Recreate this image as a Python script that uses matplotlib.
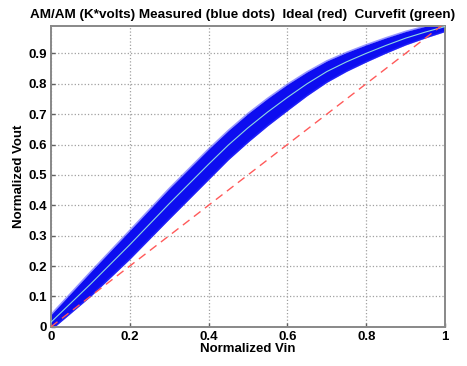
import numpy as np
import matplotlib
matplotlib.use("Agg")
import matplotlib.pyplot as plt

# centre of the measured cloud and its half thickness
vin = [0.0, 0.1, 0.2, 0.3, 0.35, 0.4, 0.45, 0.5, 0.55, 0.6, 0.65, 0.7, 0.75, 0.8, 0.85, 0.9, 0.95, 1.0]
vout_fit = [0.015, 0.14, 0.27, 0.405, 0.47, 0.535, 0.598, 0.655, 0.707, 0.755, 0.80, 0.84, 0.872,
            0.90, 0.926, 0.95, 0.97, 0.988]
spread = [0.025, 0.04, 0.047, 0.05, 0.05, 0.05, 0.048, 0.047, 0.045, 0.043, 0.039, 0.035, 0.031,
          0.028, 0.025, 0.022, 0.019, 0.016]
ideal = [0.0, 1.0]

xticks = [0, 0.2, 0.4, 0.6, 0.8, 1]
xlabels = ["0", "0.2", "0.4", "0.6", "0.8", "1"]
yticks = [0, 0.1, 0.2, 0.3, 0.4, 0.5, 0.6, 0.7, 0.8, 0.9]
ylabels = ["0", "0.1", "0.2", "0.3", "0.4", "0.5", "0.6", "0.7", "0.8", "0.9"]

plt.rcParams['font.family'] = ['Liberation Sans', 'DejaVu Sans']
plt.rcParams['font.weight'] = 'bold'

fig = plt.figure(figsize=(4.67, 3.66), dpi=100)
ax = fig.add_axes([0.109, 0.107, 0.844, 0.822])

x = np.array(vin)
c = np.array(vout_fit)
s = np.array(spread)
ax.fill_between(x, c - s, c + s, color='#0d0df0', lw=0, zorder=2)
ax.plot(x, c + s, color='#3030ff', lw=1.2, alpha=0.5, zorder=2)
ax.plot(x, c - s, color='#3030ff', lw=1.2, alpha=0.5, zorder=2)
ax.plot(x, c, color='#8fd8e0', lw=0.8, zorder=3)
ax.plot(ideal, ideal, color='#ff5a5a', lw=1.0, ls=(0, (6, 4)), zorder=4)

ax.set_xlim(0, 1)
ax.set_ylim(0, 0.99)
ax.set_xticks(xticks)
ax.set_xticklabels(xlabels)
ax.set_yticks(yticks)
ax.set_yticklabels(ylabels)
ax.tick_params(direction='in', length=3, width=1, color='#606060', labelsize=9.5, pad=3)
ax.grid(True, ls=':', color='#a0a0a0', lw=0.9)
ax.set_axisbelow(True)
for sp in ax.spines.values():
    sp.set_color('#888888')
    sp.set_linewidth(1.4)

ax.set_xlabel("Normalized Vin", fontsize=9.5, fontweight='bold', labelpad=0)
ax.set_ylabel("Normalized Vout", fontsize=9.5, fontweight='bold', labelpad=2)
ax.set_title("AM/AM (K*volts) Measured (blue dots)  Ideal (red)  Curvefit (green)",
             fontsize=9.7, fontweight='bold', pad=6, x=0.485)

fig.savefig("out.png", dpi=100)
